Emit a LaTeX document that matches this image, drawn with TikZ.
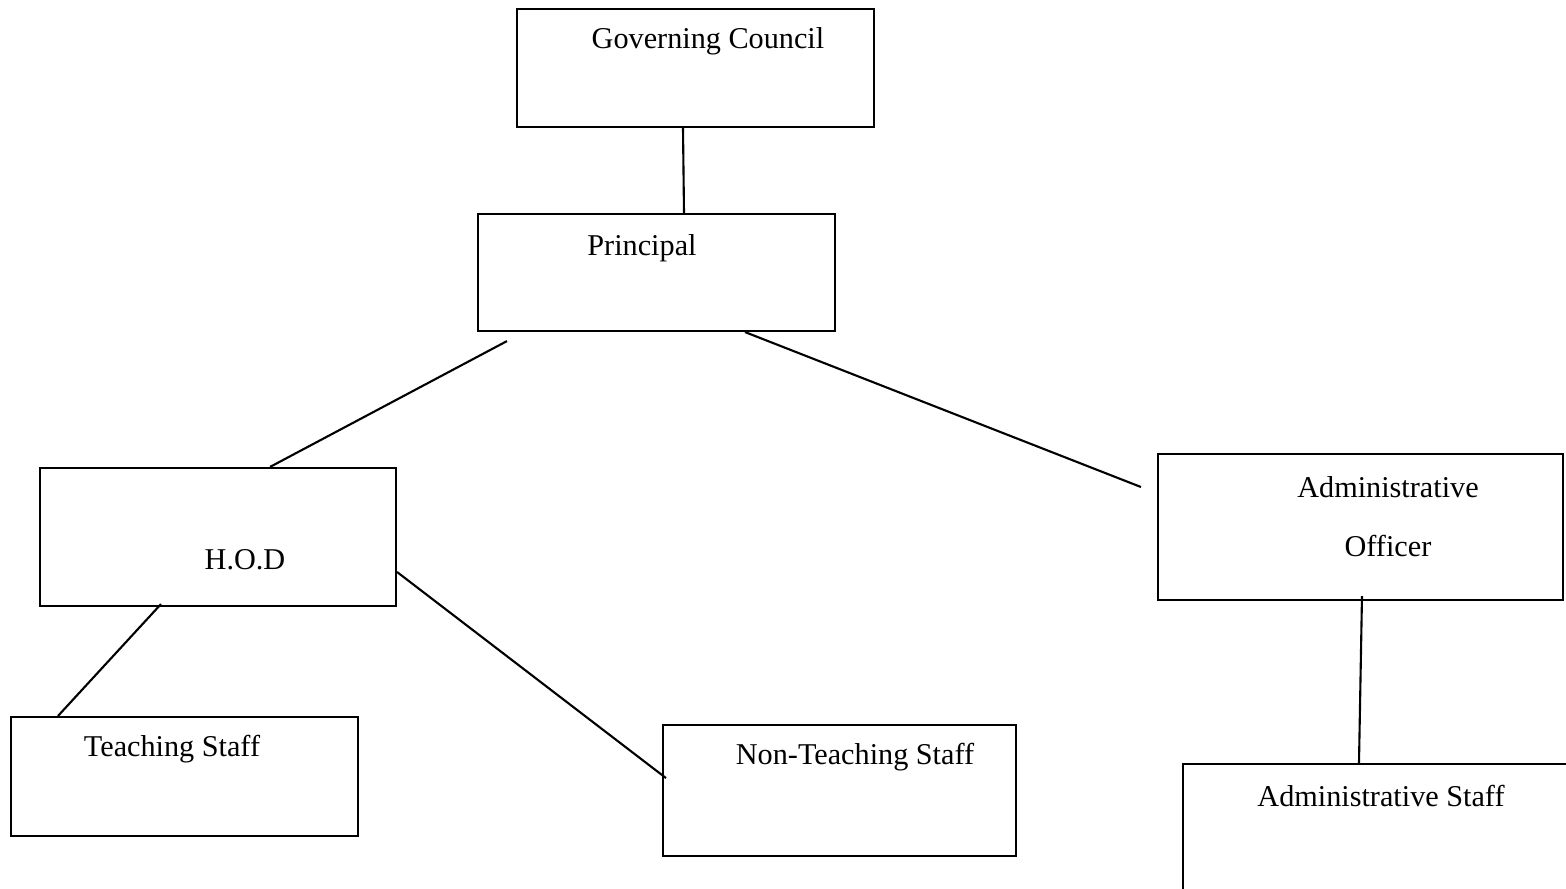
\documentclass[tikz,border=0pt]{standalone}
\usepackage{fontspec}
\setmainfont{Liberation Serif}
\usepackage{tikz}

\tikzset{
  box/.style={draw, line width=0.6pt, rectangle, inner sep=0pt},
  lbl/.style={inner sep=0pt, font=\fontsize{8.6}{10}\selectfont},
  link/.style={line width=0.6pt}
}

\begin{document}
\begin{tikzpicture}
      \useasboundingbox (0,0) rectangle (15.66,-8.88);
      \clip (0,0) rectangle (15.66,-8.88);
      % Conselho
      \node[box, minimum width=3.57cm, minimum height=1.18cm] (gc) at (6.955,-0.68) {};
      \node[lbl] (gctext) at (7.08,-0.41) {Governing Council};
      % Diretor
      \node[box, minimum width=3.57cm, minimum height=1.17cm] (prin) at (6.565,-2.725) {};
      \node[lbl] (printext) at (6.42,-2.48) {Principal};
      % Chefe de departamento
      \node[box, minimum width=3.56cm, minimum height=1.38cm] (hod) at (2.18,-5.37) {};
      \node[lbl] (hodtext) at (2.45,-5.60) {H.O.D};
      % Oficial administrativo
      \node[box, minimum width=4.05cm, minimum height=1.46cm] (ao) at (13.605,-5.27) {};
      \node[lbl] (aotext1) at (13.88,-4.87) {Administrative};
      \node[lbl] (aotext2) at (13.88,-5.46) {Officer};
      % Funcionarios
      \node[box, minimum width=3.47cm, minimum height=1.19cm] (teach) at (1.845,-7.765) {};
      \node[lbl] (teachtext) at (1.72,-7.49) {Teaching Staff};
      \node[box, minimum width=3.53cm, minimum height=1.31cm] (nonteach) at (8.395,-7.905) {};
      \node[lbl] (nonteachtext) at (8.55,-7.57) {Non-Teaching Staff};
      \node[box, minimum width=4.17cm, minimum height=1.56cm] (adstaff) at (13.915,-8.42) {};
      \node[lbl] (adstafftext) at (13.81,-7.96) {Administrative Staff};

      % Ligacoes
      \draw[link] ([xshift=-0.125cm]gc.south) -- ([xshift=0.275cm]prin.north);
      \draw[link] ([xshift=-1.495cm, yshift=-0.09cm]prin.south) -- ([xshift=0.52cm]hod.north);
      \draw[link] ([xshift=0.885cm]prin.south) -- ([xshift=-0.16cm, yshift=0.40cm]ao.west);
      \draw[link] ([xshift=-0.57cm, yshift=0.03cm]hod.south) -- ([xshift=-1.265cm]teach.north);
      \draw[link] ([yshift=-0.35cm]hod.east) -- ([xshift=0.04cm, yshift=0.125cm]nonteach.west);
      \draw[link] ([xshift=0.015cm, yshift=0.05cm]ao.south) -- ([xshift=-0.325cm]adstaff.north);
\end{tikzpicture}
\end{document}
